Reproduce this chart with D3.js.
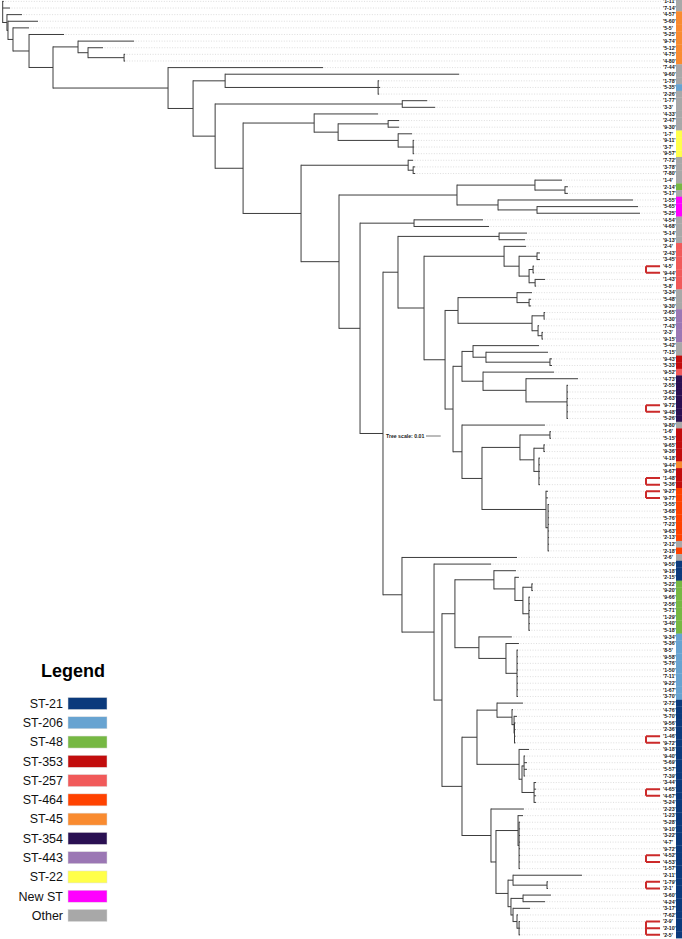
<!DOCTYPE html>
<html><head><meta charset="utf-8">
<script src="https://cdn.jsdelivr.net/npm/d3@7"></script>
<style>body{margin:0;background:#fff}svg{display:block}</style>
</head><body>
<svg id="chart" width="682" height="939"></svg>
<script>
// ---------------- DATA ----------------
const leafLabels = ["1-11","7-14","4-57","5-60","5-5","5-25","9-74","5-12","4-75","4-80",
"7-44","9-60","1-78","5-35","2-26","1-77","3-3","4-33","2-47","9-30",
"1-7","9-11","3-7","9-57","7-72","3-78","7-80","1-4","2-14","5-17",
"1-55","5-65","5-25","4-54","4-68","5-14","9-13","2-4","2-43","3-45",
"4-5","9-44","1-43","5-8","3-34","5-48","9-30","2-65","3-30","7-43",
"2-3","9-15","5-42","7-15","9-43","5-33","9-52","4-73","2-55","3-62",
"2-63","9-72","9-48","5-26","9-80","1-6","5-15","9-65","9-36","4-18",
"9-44","9-67","1-48","5-36","9-27","9-77","3-55","3-68","5-76","7-23",
"9-63","2-13","2-12","2-18","2-6","9-50","9-18","2-15","5-22","9-20",
"9-66","2-56","5-71","1-29","3-40","5-18","9-34","5-36","8-5","9-58",
"5-76","1-50","7-11","9-22","1-67","3-70","2-72","4-76","5-70","9-56",
"2-36","1-46","9-72","9-18","9-40","5-69","5-57","7-39","3-44","4-65",
"4-67","5-24","2-23","1-23","5-28","9-10","3-22","4-7","9-72","4-52",
"4-53","1-57","2-11","1-79","2-1","3-60","4-24","3-17","7-62","2-9",
"2-10","2-5"];

const O="Other",S21="ST-21",S206="ST-206",S48="ST-48",S353="ST-353",S257="ST-257",
      S464="ST-464",S45="ST-45",S354="ST-354",S443="ST-443",S22="ST-22",NEW="New ST";
const leafTypes = [O,O,S45,S45,S45,S45,S45,S45,S45,S45,
O,O,O,S206,O,O,O,O,O,O,
S22,S22,S22,S22,O,O,O,O,S48,O,
NEW,NEW,NEW,O,O,O,O,S257,S257,S257,
S257,S257,S257,S257,O,O,O,S443,S443,S443,
S443,S443,O,O,S353,S353,S257,S354,S354,S354,
S354,S354,S354,S354,O,S353,S353,S353,S353,S353,
S45,S353,S353,S353,S464,S464,S464,S464,S464,S464,
S464,S464,O,S464,O,S21,S21,S21,S48,S48,
S48,S48,S48,S48,S48,S48,S206,S206,S206,S206,
S206,S206,S206,S206,S206,S206,S21,S21,S21,S21,
S21,S21,S21,S21,S21,S21,S21,S21,S21,S21,
S21,S21,S21,S21,S21,S21,S21,S21,S21,S21,
S21,S21,S21,S21,S21,S21,S21,S21,S21,S21,
S21,S21];

const legendNames  = ["ST-21","ST-206","ST-48","ST-353","ST-257","ST-464","ST-45","ST-354","ST-443","ST-22","New ST","Other"];
const legendColors = ["#0b3a7c","#67a3d1","#76b843","#c20d0d","#f15a5a","#ff4200","#f98b30","#2a1052","#9b77b4","#ffff4a","#ff00ff","#a8a8a8"];

// leaf groups marked with red brackets (leaf indices)
const bracketGroups = [[40,41],[61,62],[72,73],[74,75],[111,112],[119,120],[129,130],[133,134],[139,140,141]];

// tree topology, leaves referenced by index; branch lengths in 1e-3 substitutions/site
const cladeA = "(6:38.1,(7:10.2,(8:0.7,9:0.7):24.5):6.8):17.0";
const cladeB = "(11:159.1,(12:0.7,13:1.4,14:0.7):104.0):21.8";
const cladeC = "(15:17.0,16:22.4):127.2";
const cladeD = "(17:43.5,((18:7.5,19:7.5):34.0,(20:9.5,(21:0.7,22:0.7,23:0.7):10.2):40.8):16.3):48.3";
const cladeE = "(24:3.4,(25:1.4,26:1.4):3.4):72.8";
const cladeF = "((27:18.4,(28:2.0,29:2.0):20.4):53.0,(30:91.8,(31:68.7,32:70.0):26.5):27.9):80.2";
const cladeG = "(33:46.9,34:51.0):36.7";
const cladeH = "(35:19.0,36:17.7):68.7";
const cladeI = "(37:15.0,((38:2.0,39:2.0):12.2,((40:0.7,41:0.7):2.7,(42:6.8,43:0.7):4.1):6.8):10.2):54.4";
const cladeJ = "((44:10.2,(45:1.4,46:1.4):8.2):40.1,((47:0.7,48:0.3):8.2,(49:0.7,(50:0.7,51:0.7):2.7):4.1):50.3):8.8";
const cladeK = "((52:44.9,(53:42.2,(54:1.4,55:1.4):43.5):8.8):7.5,(56:48.3,(57:35.4,(58:0.7,59:0.7,60:0.7,61:0.7,62:0.7,63:0.7):27.9):29.2):14.3):6.1";
const cladeL = "(64:56.4,(((65:0.7,66:0.7):20.4,((67:0.7,68:0.7):6.8,(69:0.7,70:0.7,71:0.7,72:0.7,73:0.7):3.4):9.5):25.8,(74:1.4,75:1.4,(76:0.7,77:0.7,78:0.7,79:0.7,80:0.7,81:0.7,82:0.7,83:0.7):1.4):43.5):13.6):6.1";
const cladeM = "((86:15.0,(87:2.7,((88:0.7,89:0.7):6.1,(90:0.7,91:0.7,92:0.7,93:0.7,94:0.7,95:0.7):4.1):5.4):14.3):26.5,(96:22.4,(97:8.8,(98:0.7,99:0.7,100:0.7,101:0.7,102:0.7,103:0.7,104:0.7,105:0.7):7.5):18.4):16.3):8.8";
const cladeN = "((106:17.7,(107:0.7,(108:2.0,(109:0.7,110:0.7,111:0.7,112:0.7):0.3):1.4):10.2):13.6,(113:6.8,((114:0.7,115:2.0,116:2.0,117:0.7):1.4,(118:1.4,119:1.4,120:1.4,121:1.4):8.2):2.0):28.6):10.2";
const cladeP = "(122:22.4,((123:3.4,(124:0.7,125:0.7,126:0.7,127:0.7,128:0.7,129:0.7,130:0.7,131:0.7):0.7):15.0,((132:46.9,(133:0.7,134:0.7):23.1):3.4,((135:19.0,136:15.0):8.2,(137:11.6,(138:0.7,(139:0.7,140:0.7,141:0.7):1.4):2.7):1.4):2.0):8.2):3.4):19.7";

const newick =
 "(0:0.7,1:5.0,(2:10.2,(3:20.4,(4:10.9,(5:23.8,(" + cladeA + ",(10:105.4,(" + cladeB + ",(" + cladeC + ",(" + cladeD +
 ",(" + cladeE + ",(" + cladeF + ",(" + cladeG + ",((" + cladeH + ",(" + cladeI + ",(" + cladeJ + ",(" + cladeK + "," + cladeL +
 "):5.4):14.3):17.7):10.2,(84:78.2,(85:38.8,(" + cladeM + ",(" + cladeN + "," + cladeP + "):13.6):5.4):21.8):12.9):15.6):14.3):25.8):39.4):19.0):15.0):17.0):78.2):16.3):10.9):3.4):0.7):2.9);";

const treeScaleValue = 0.01;

// ---------------- PARSE ----------------
function parseNewick(s){
  let i=0;
  function node(){
    const n={};
    if(s[i]==='('){
      n.children=[]; i++;
      n.children.push(node());
      while(s[i]===','){i++; n.children.push(node());}
      i++;
    }
    let name='';
    while(i<s.length && !':,();'.includes(s[i])) name+=s[i++];
    if(name) n.name=name;
    if(s[i]===':'){i++; let num=''; while(i<s.length && !',();'.includes(s[i])) num+=s[i++]; n.length=+num/1000;}
    return n;
  }
  return node();
}

const root = d3.hierarchy(parseNewick(newick));
root.eachBefore(d=>{ d.dist = (d.parent?d.parent.dist:0) + (d.data.length||0); });
const leaves = root.leaves();

const y = d3.scalePoint().domain(leafLabels.map((_,i)=>i)).range([1.4,934.8]);
const step = y.step();
const x = d3.scaleLinear().domain([0, d3.max(leaves,d=>d.dist)]).range([2.7,640]);
const color = d3.scaleOrdinal().domain(legendNames).range(legendColors);

leaves.forEach(d=>{ d.idx=+d.data.name; d.py=y(d.idx); });
root.eachAfter(d=>{ if(d.children){ d.py=(d.children[0].py+d.children[d.children.length-1].py)/2; } });

const svg = d3.select("#chart");
const gTree = svg.append("g");

// leader dotted lines
const labelX = 663, leaderEnd = 661;
gTree.append("g").selectAll("line").data(leaves).join("line")
  .attr("x1",d=>x(d.dist)+1.5).attr("x2",leaderEnd)
  .attr("y1",d=>d.py).attr("y2",d=>d.py)
  .attr("stroke","#c8c8c8").attr("stroke-width",0.6).attr("stroke-dasharray","1,1.6");

// branches
const branchColor="#3c3c3c";
gTree.append("g").selectAll("line").data(root.descendants().filter(d=>d.parent)).join("line")
  .attr("x1",d=>x(d.parent.dist)).attr("x2",d=>x(d.dist))
  .attr("y1",d=>d.py).attr("y2",d=>d.py)
  .attr("stroke",branchColor).attr("stroke-width",1);
gTree.append("g").selectAll("line").data(root.descendants().filter(d=>d.children)).join("line")
  .attr("x1",d=>x(d.dist)).attr("x2",d=>x(d.dist))
  .attr("y1",d=>d.children[0].py-0.5).attr("y2",d=>d.children[d.children.length-1].py+0.5)
  .attr("stroke",branchColor).attr("stroke-width",1);

// labels
svg.append("g").selectAll("text").data(leaves).join("text")
  .attr("x",labelX).attr("y",d=>d.py+1.8)
  .attr("font-family","Liberation Sans, Arial, sans-serif").attr("font-size",5.2).attr("font-weight","bold")
  .attr("fill","#111").text(d=>"'"+leafLabels[d.idx]+"'");

// colour strip
svg.append("g").selectAll("rect").data(leaves).join("rect")
  .attr("x",676).attr("width",6)
  .attr("y",d=>d.py-step/2).attr("height",step+0.3)
  .attr("fill",d=>color(leafTypes[d.idx]));

// brackets
const bx0=646, bx1=660;
svg.append("g").selectAll("path").data(bracketGroups).join("path")
  .attr("d",g=>{
    const ys=g.map(i=>y(i));
    let p=`M${bx0},${d3.min(ys)}V${d3.max(ys)}`;
    ys.forEach(v=>{p+=`M${bx0},${v}H${bx1}`;});
    return p;
  })
  .attr("fill","none").attr("stroke","#cc2a2a").attr("stroke-width",2);

// tree scale
const sx=426, sy=436;
svg.append("text").attr("x",386).attr("y",sy+1.8)
  .attr("font-family","Liberation Sans, Arial, sans-serif").attr("font-size",5.2).attr("font-weight","bold")
  .attr("fill","#222").text("Tree scale: "+treeScaleValue);
svg.append("line").attr("x1",sx).attr("x2",sx+x(treeScaleValue)-x(0)).attr("y1",sy).attr("y2",sy)
  .attr("stroke","#777").attr("stroke-width",1);

// legend
const lg = svg.append("g");
lg.append("text").attr("x",73).attr("y",677).attr("text-anchor","middle")
  .attr("font-family","Liberation Sans, Arial, sans-serif").attr("font-size",18).attr("font-weight","bold")
  .text("Legend");
const ly = d3.scalePoint().domain(legendNames).range([703.5,915.5]);
const items = lg.selectAll("g.item").data(legendNames).join("g").attr("class","item")
  .attr("transform",d=>`translate(0,${ly(d)})`);
items.append("text").attr("x",63).attr("y",4.3).attr("text-anchor","end")
  .attr("font-family","Liberation Sans, Arial, sans-serif").attr("font-size",12.5).attr("fill","#111").text(d=>d);
items.append("rect").attr("x",68).attr("y",-6).attr("width",39).attr("height",12)
  .attr("fill",d=>color(d)).attr("stroke","#ddd").attr("stroke-width",0.5);
</script>
</body></html>
